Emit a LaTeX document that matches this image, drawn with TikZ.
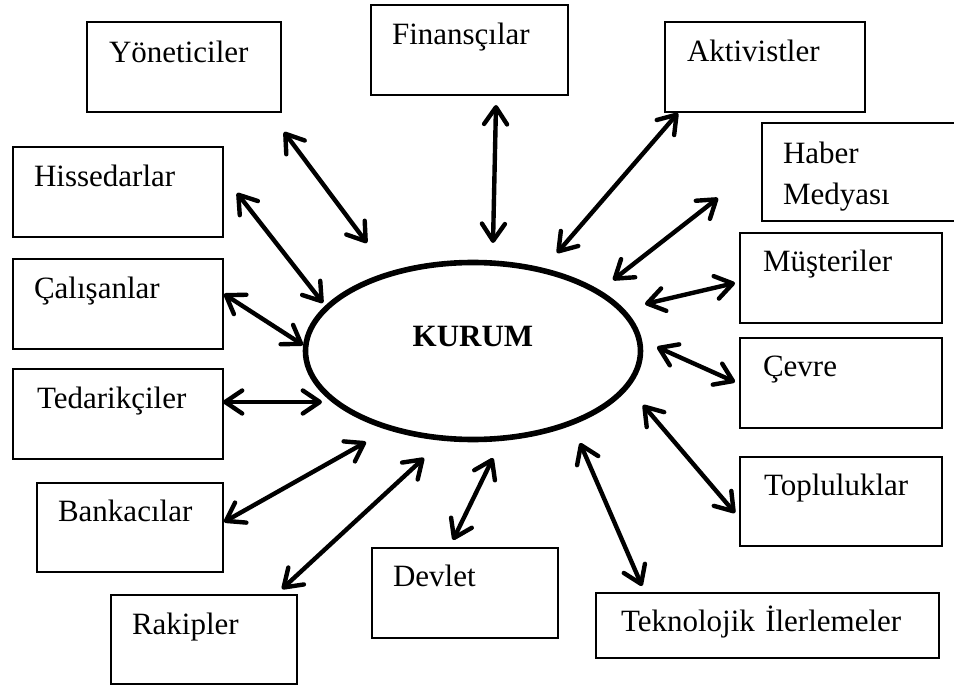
\documentclass[tikz,border=0pt]{standalone}
\usepackage{fontspec}
\setmainfont{Liberation Serif}
\usetikzlibrary{arrows.meta,shapes.geometric}

\tikzset{
  party/.style={draw, line width=2.1pt, anchor=north west, inner ysep=0pt,
    align=left, font=\fontsize{31pt}{41pt}\selectfont},
  core/.style={draw, ellipse, line width=5.6pt, inner sep=0pt,
    minimum width=335pt, minimum height=177pt,
    font=\fontsize{31pt}{41pt}\selectfont\bfseries,
    text height=20pt, text depth=29pt},
  barb/.tip={Straight Barb[length=17pt,width=23pt,line width=4.4pt,round]},
  link/.style={line width=4.4pt, barb-barb}
}

% a box: #1 name, (#2,#3) top left, #4 width, #5 padding, #6 top-to-baseline, #7 baseline-to-bottom
\newcommand{\partybox}[8]{%
  \node[party, inner xsep=#5pt, text width=\dimexpr #4pt-2\dimexpr #5pt\relax\relax,
        text height=#6pt, text depth=#7pt] (#1) at (#2,#3) {#8};}

\begin{document}
\begin{tikzpicture}[x=1pt,y=-1pt]
  \useasboundingbox (0,0) rectangle (954,687);
  \clip (0,0) rectangle (954,687);

  % the organisation in the middle
  \node[core] (kurum) at (473,351) {KURUM};

  % stakeholder boxes
  \partybox{yon}{86}{21}{194}{22}{40}{50}{Yöneticiler}
  \partybox{fin}{370}{4}{197}{21}{39}{51}{Finansçılar}
  \partybox{akt}{664}{21}{200}{22}{39}{51}{Aktivistler}
  \partybox{hab}{761}{122}{200}{21}{40}{58}{Haber\\Medyası}
  \partybox{mus}{739}{232}{202}{23}{38}{52}{Müşteriler}
  \partybox{cev}{739}{337}{202}{23}{38}{52}{Çevre}
  \partybox{top}{739}{456}{202}{24}{38}{51}{Topluluklar}
  \partybox{tek}{595}{592}{343}{25}{38}{27}{Teknolojik İlerlemeler}
  \partybox{dev}{371}{547}{186}{21}{38}{52}{Devlet}
  \partybox{rak}{110}{594}{186}{21}{39}{50}{Rakipler}
  \partybox{ban}{36}{482}{186}{21}{38}{51}{Bankacılar}
  \partybox{ted}{12}{368}{210}{24}{39}{51}{Tedarikçiler}
  \partybox{cal}{12}{258}{210}{21}{39}{51}{Çalışanlar}
  \partybox{his}{12}{146}{210}{21}{39}{51}{Hissedarlar}

  % arrow end points
  \coordinate (yonA) at (284,132); \coordinate (yonB) at (367,243);
  \coordinate (hisA) at (237,193); \coordinate (hisB) at (323,303);
  \coordinate (calA) at (224,294); \coordinate (calB) at (303,345);
  \coordinate (tedA) at (223,402); \coordinate (tedB) at (322,402);
  \coordinate (banA) at (224,522); \coordinate (banB) at (366,442);
  \coordinate (rakA) at (282,589); \coordinate (rakB) at (424,458);
  \coordinate (devA) at (453,540); \coordinate (devB) at (493,458);
  \coordinate (finA) at (496,105); \coordinate (finB) at (493,243);
  \coordinate (aktA) at (678,113); \coordinate (aktB) at (557,253);
  \coordinate (habA) at (718,198); \coordinate (habB) at (613,280);
  \coordinate (musA) at (735,283); \coordinate (musB) at (645,304);
  \coordinate (cevA) at (735,382); \coordinate (cevB) at (657,347);
  \coordinate (topA) at (735,513); \coordinate (topB) at (643,405);
  \coordinate (tekA) at (642,586); \coordinate (tekB) at (580,443);

  % two-way relations
  \foreach \p in {yon,his,cal,ted,ban,rak,dev,fin,akt,hab,mus,cev,top,tek}
    \draw[link] (\p A) -- (\p B);
\end{tikzpicture}
\end{document}
